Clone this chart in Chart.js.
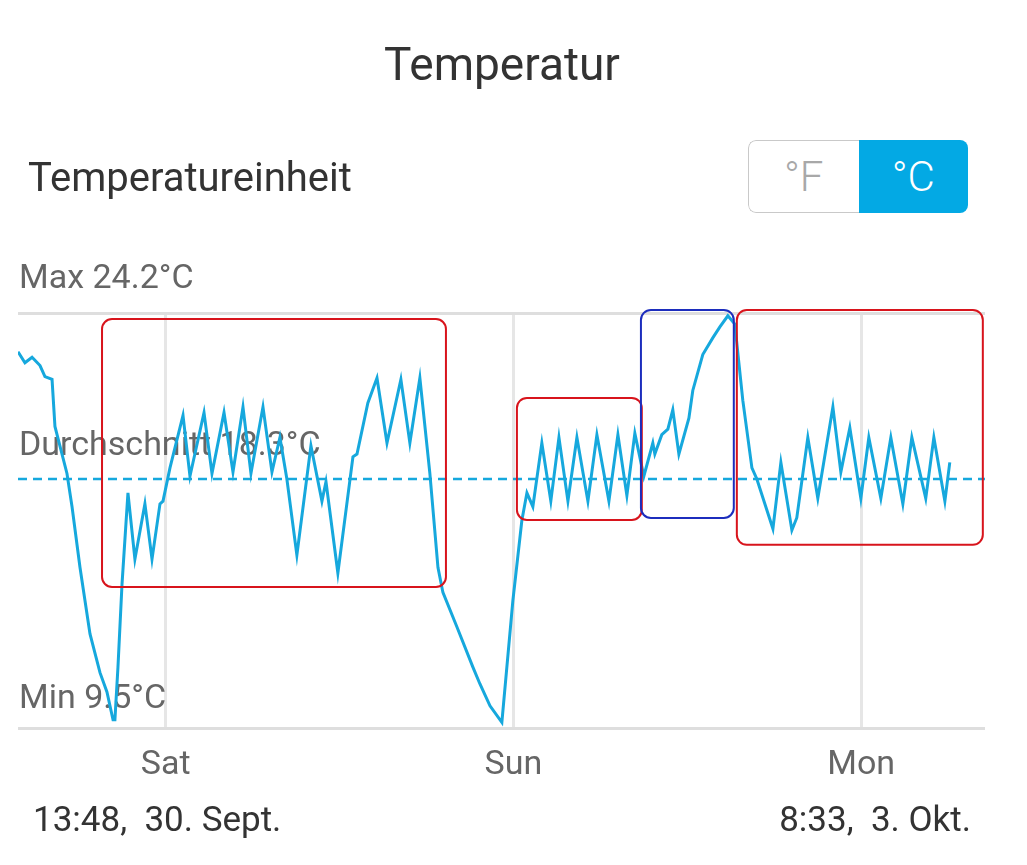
<!DOCTYPE html>
<html lang="de">
<head>
<meta charset="utf-8">
<title>Temperatur</title>
<script src="https://cdn.jsdelivr.net/npm/chart.js@4.4.0/dist/chart.umd.min.js"></script>
<style>
  html, body { margin: 0; padding: 0; background: #fff; }
  body { width: 1027px; height: 865px; position: relative; overflow: hidden; font-family: Roboto, "Noto Sans", sans-serif; }
  #title { position: absolute; left: 0; width: 1004px; top: 37px; text-align: center; font-size: 46px; color: #333; }
  #einheit { position: absolute; left: 28px; top: 154px; font-size: 40px; color: #333; }
  #toggle { position: absolute; left: 748px; top: 140px; width: 220px; height: 73px; display: flex; border-radius: 8px; overflow: hidden; }
  #toggle div { flex: 1; display: flex; align-items: center; justify-content: center; font-size: 42px; font-weight: 300; }
  #btnF { border: 1.5px solid #c9c9c9; border-right: none; border-radius: 8px 0 0 8px; color: #a8a8a8; background: #fff; }
  #btnC { background: #03a9e4; color: #fff; }
  #chartWrap { position: absolute; left: 0; top: 0; width: 1027px; height: 865px; }
  .datum { position: absolute; top: 799px; font-size: 35px; color: #333; white-space: pre; }
  #start { left: 33px; }
  #ende { right: 56px; }
</style>
</head>
<body>
<div id="chartWrap"><canvas id="tempChart" width="1027" height="865"></canvas></div>
<div id="title">Temperatur</div>
<div id="einheit">Temperatureinheit</div>
<div id="toggle"><div id="btnF">°F</div><div id="btnC">°C</div></div>
<div class="datum" id="start">13:48,  30. Sept.</div>
<div class="datum" id="ende">8:33,  3. Okt.</div>
<script>
// Stunden seit Beginn (13:48, 30. Sept.)
const stunden = [
  0, 0.48, 0.97, 1.52, 1.86, 2.35, 2.55, 3.38, 3.73, 4.28, 4.97, 5.66, 6.14, 6.56, 6.69,
  6.90, 7.18, 7.59, 8.07, 8.76, 9.25, 9.80, 10.01, 10.49, 11.39, 11.87, 12.84, 13.39, 14.22, 14.84,
  15.53, 16.08, 16.91, 17.53, 18.08, 18.56, 19.25, 20.22, 20.98, 21.26, 22.08, 23.12, 23.40, 24.15, 24.78,
  25.47, 26.43, 27.05, 27.74, 28.43, 28.99, 29.33, 30.30, 31.40, 31.88, 32.58, 33.40,
  34.16, 34.78, 35.13, 35.54, 36.16, 36.78, 37.34, 37.96, 38.58, 39.34, 39.96, 40.79, 41.41, 42.03, 42.58,
  43.20, 43.82, 43.96, 44.44, 44.86, 45.20, 45.62, 46.31, 46.58, 47.27, 47.96, 48.45, 49.00, 49.48,
  50.03, 50.66, 51.00, 52.11, 52.66, 53.42, 53.76, 54.52, 55.21, 56.25, 56.80, 57.42, 58.18, 58.73,
  59.56, 60.25, 61.08, 61.70, 62.66, 63.22, 63.98, 64.32
];
const temperatur = [
  22.9, 22.5, 22.7, 22.4, 22.0, 21.9, 20.2, 18.5, 17.3, 15.1, 12.7, 11.3, 10.6, 9.6, 9.6,
  11.5, 14.5, 17.8, 15.4, 17.4, 15.4, 17.4, 17.5, 18.7, 20.6, 18.4, 20.7, 18.5, 20.7, 18.55,
  20.9, 18.5, 20.9, 18.55, 19.8, 18.3, 15.55, 19.5, 17.5, 18.2, 14.9, 19.1, 19.2, 21.05, 21.95,
  19.6, 21.9, 19.6, 21.95, 18.5, 15.1, 14.2, 12.95, 11.5, 10.9, 10.1, 9.5,
  13.9, 16.8, 17.8, 17.3, 19.6, 17.5, 19.8, 17.5, 19.8, 17.5, 19.9, 17.5, 19.9, 17.7, 19.95,
  18.4, 19.6, 19.2, 19.9, 20.1, 20.8, 19.2, 20.5, 21.5, 22.8, 23.4, 23.8, 24.2, 23.9,
  21.15, 18.7, 18.3, 16.5, 18.9, 16.45, 16.9, 19.8, 17.6, 20.9, 18.55, 20.15, 17.6, 19.8,
  17.6, 19.8, 17.4, 19.8, 17.6, 19.8, 17.5, 18.9
];

const maxTemp = 24.2;
const avgTemp = 18.3;
const minTemp = 9.5;
const achseMin = 9.3;
const achseMax = 24.3;
const achseEnde = 66.75; // 8:33, 3. Okt.

const tagStunden = [10.2, 34.2, 58.2];
const tagLabels = ["Sat", "Sun", "Mon"];

// Markierungen: Stunden von/bis, Temperatur oben/unten
const boxVon = [5.80, 34.44, 49.62, 43.0];
const boxBis = [29.54, 43.06, 66.6, 49.41];
const boxOben = [24.08, 21.23, 24.41, 24.41];
const boxUnten = [14.4, 16.82, 15.92, 16.89];
const boxFarbe = ["#d8141c", "#d8141c", "#d8141c", "#1c2dbd"];

const linienFarbe = "#16a8dd";

const labelPlugin = {
  id: "labels",
  beforeDatasetsDraw(chart) {
    const { ctx, chartArea, scales } = chart;
    ctx.save();
    ctx.font = "34px Roboto";
    ctx.fillStyle = "#666";
    ctx.textBaseline = "middle";
    ctx.textAlign = "left";
    ctx.fillText("Max " + maxTemp.toFixed(1) + "°C", 19, chartArea.top - 34);
    ctx.fillText("Durchschnitt " + avgTemp.toFixed(1) + "°C", 19, scales.y.getPixelForValue(avgTemp) - 33);
    ctx.fillText("Min " + minTemp.toFixed(1) + "°C", 19, chartArea.bottom - 29);
    ctx.restore();
  },
};

const boxPlugin = {
  id: "boxes",
  afterDatasetsDraw(chart) {
    const { ctx, scales } = chart;
    ctx.save();
    ctx.lineWidth = 2;
    boxVon.forEach((von, i) => {
      const x0 = scales.x.getPixelForValue(von);
      const x1 = scales.x.getPixelForValue(boxBis[i]);
      const y0 = scales.y.getPixelForValue(boxOben[i]);
      const y1 = scales.y.getPixelForValue(boxUnten[i]);
      ctx.strokeStyle = boxFarbe[i];
      ctx.beginPath();
      ctx.roundRect(x0, y0, x1 - x0, y1 - y0, 10);
      ctx.stroke();
    });
    ctx.restore();
  },
};

const ctx = document.getElementById("tempChart").getContext("2d");

new Chart(ctx, {
  type: "line",
  data: {
    datasets: [
      {
        data: stunden.map((h, i) => ({ x: h, y: temperatur[i] })),
        borderColor: linienFarbe,
        borderWidth: 3,
        pointRadius: 0,
        tension: 0,
      },
      {
        data: [{ x: 0, y: avgTemp }, { x: achseEnde, y: avgTemp }],
        borderColor: linienFarbe,
        borderWidth: 2.5,
        borderDash: [9, 6],
        pointRadius: 0,
      },
    ],
  },
  plugins: [labelPlugin, boxPlugin],
  options: {
    responsive: false,
    animation: false,
    devicePixelRatio: 1,
    layout: { padding: { top: 313, left: 18, right: 42, bottom: 77 } },
    plugins: { legend: { display: false }, tooltip: { enabled: false } },
    scales: {
      x: {
        type: "linear",
        min: 0,
        max: achseEnde,
        afterBuildTicks: (scale) => {
          scale.ticks = tagStunden.map((v) => ({ value: v }));
        },
        afterFit: (scale) => {
          scale.height = 60;
        },
        grid: { color: "#e6e6e6", lineWidth: 3, drawTicks: false },
        border: { display: false },
        ticks: {
          padding: 17,
          color: "#666",
          font: { family: "Roboto", size: 34 },
          callback: (value) => tagLabels[tagStunden.indexOf(value)],
        },
      },
      y: {
        min: achseMin,
        max: achseMax,
        afterBuildTicks: (scale) => {
          scale.ticks = [{ value: achseMin }, { value: achseMax }];
        },
        afterFit: (scale) => {
          scale.width = 0;
        },
        grid: { color: "#dedede", lineWidth: 3, drawTicks: false },
        border: { display: false },
        ticks: { display: false },
      },
    },
  },
});
</script>
</body>
</html>
